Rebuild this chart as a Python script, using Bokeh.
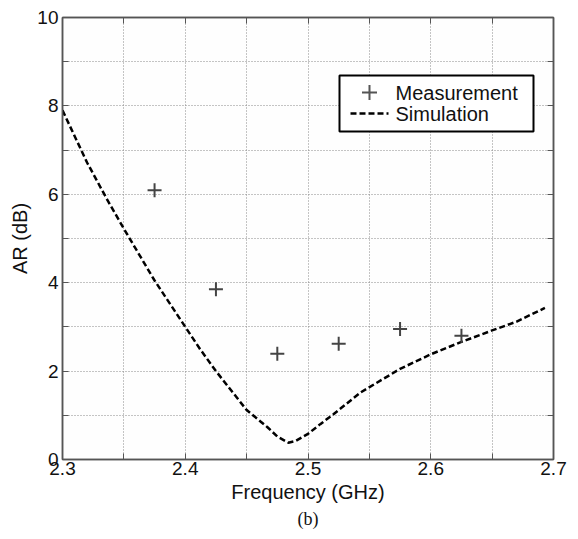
from bokeh.plotting import figure
from bokeh.models import (FixedTicker, Label, LinearAxis, Range1d, Grid,
                          BoxAnnotation, Arrow, Title)
from bokeh.embed import file_html
from bokeh.resources import INLINE

# Measurement data
meas_f = [2.375, 2.425, 2.475, 2.525, 2.575, 2.625]
meas_ar = [6.09, 3.85, 2.39, 2.62, 2.95, 2.80]

# Simulation data
sim_f = [2.300, 2.320, 2.336, 2.350, 2.375, 2.400, 2.412, 2.425, 2.450, 2.467,
         2.475, 2.484, 2.490, 2.500, 2.510, 2.521, 2.543, 2.575, 2.600, 2.624,
         2.650, 2.670, 2.693]
sim_ar = [7.90, 6.72, 5.90, 5.22, 4.05, 3.00, 2.50, 2.00, 1.12, 0.73,
          0.52, 0.38, 0.42, 0.58, 0.80, 1.03, 1.52, 2.05, 2.38, 2.65,
          2.92, 3.12, 3.43]

x_major = [2.3, 2.4, 2.5, 2.6, 2.7]
x_minor = [2.35, 2.45, 2.55, 2.65]
y_major = [0, 2, 4, 6, 8, 10]
y_minor = [1, 3, 5, 7, 9]

legend_labels = ["Measurement", "Simulation"]
caption = "(b)"

FONT = "Liberation Sans"
AXC = "#555555"
GRIDC = "#8a8a8a"
TXT = "#111111"

p = figure(width=578, height=539, output_backend="svg", toolbar_location=None,
           x_range=Range1d(2.3, 2.7), y_range=Range1d(0, 10),
           min_border_left=62, min_border_right=25, min_border_top=17,
           min_border_bottom=80, x_axis_type=None, y_axis_type=None)
p.background_fill_color = "#fefefe"
p.border_fill_color = "white"
p.outline_line_color = AXC
p.outline_line_width = 1.5

xt = FixedTicker(ticks=x_major, minor_ticks=x_minor)
yt = FixedTicker(ticks=y_major, minor_ticks=y_minor)

def style(ax, show_labels=True):
    ax.axis_line_color = AXC
    ax.axis_line_width = 1.5
    ax.major_tick_in = 6
    ax.major_tick_out = 0
    ax.minor_tick_in = 6
    ax.minor_tick_out = 0
    ax.major_tick_line_color = AXC
    ax.minor_tick_line_color = AXC
    ax.major_label_text_font = FONT
    ax.major_label_text_font_size = "19px"
    ax.major_label_text_color = TXT
    ax.axis_label_text_font = FONT
    ax.axis_label_text_font_size = "20px"
    ax.axis_label_text_font_style = "normal"
    ax.axis_label_text_color = TXT
    if not show_labels:
        ax.major_label_text_font_size = "0px"
        ax.major_label_text_alpha = 0

xb = LinearAxis(ticker=xt, axis_label="Frequency (GHz)")
style(xb)
xb.major_label_standoff = 2
xb.axis_label_standoff = 3
p.add_layout(xb, "below")

cap = Title(text=caption, align="center", text_font="Liberation Serif",
            text_font_size="18px", text_font_style="normal", text_color=TXT,
            standoff=2, offset=0)
p.add_layout(cap, "below")

yl = LinearAxis(ticker=yt, axis_label="AR (dB)")
style(yl)
yl.major_label_standoff = 4
yl.axis_label_standoff = 3
p.add_layout(yl, "left")

yr = LinearAxis(ticker=yt)
style(yr, False)
p.add_layout(yr, "right")
xa = LinearAxis(ticker=xt)
style(xa, False)
p.add_layout(xa, "above")

for dim, tk in ((0, xt), (1, yt)):
    g = Grid(dimension=dim, ticker=tk)
    g.grid_line_color = GRIDC
    g.grid_line_dash = "1 2"
    g.grid_line_width = 1
    g.minor_grid_line_color = GRIDC
    g.minor_grid_line_dash = "1 2"
    g.minor_grid_line_width = 1
    p.add_layout(g, "center")

sim = p.line(sim_f, sim_ar, line_color="black", line_width=2.5, line_dash="6 3")
meas = p.scatter(meas_f, meas_ar, marker="cross", size=14, line_color="#444444",
                 line_width=2)

# Legend box (screen units, relative to the plot frame)
box = BoxAnnotation(left=277, right=471, bottom=328, top=384,
                    left_units="screen", right_units="screen",
                    bottom_units="screen", top_units="screen",
                    fill_color="white", fill_alpha=1,
                    line_color="black", line_width=2, line_alpha=1)
p.add_layout(box)
# "+" legend glyph
p.add_layout(Arrow(x_start=299.5, y_start=367, x_end=314.5, y_end=367,
                   start_units="screen", end_units="screen", end=None,
                   line_color="#555555", line_width=2))
p.add_layout(Arrow(x_start=307, y_start=359.5, x_end=307, y_end=374.5,
                   start_units="screen", end_units="screen", end=None,
                   line_color="#555555", line_width=2))
# dashed legend glyph
p.add_layout(Arrow(x_start=288, y_start=346, x_end=326, y_end=346,
                   start_units="screen", end_units="screen", end=None,
                   line_color="black", line_width=2.5, line_dash="6 3"))
for lbl, yy in zip(legend_labels, (367, 346)):
    p.add_layout(Label(x=333, y=yy, x_units="screen", y_units="screen",
                       text=lbl, text_font=FONT, text_font_size="20px",
                       text_baseline="middle", text_color=TXT))

open("out.html", "w").write(file_html(p, INLINE))
